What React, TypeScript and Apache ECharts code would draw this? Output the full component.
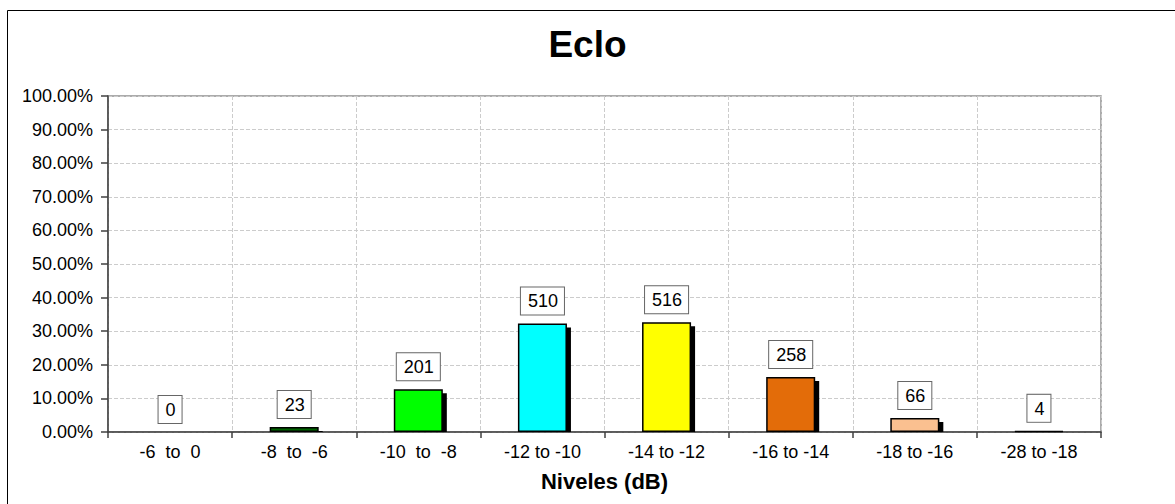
import React, { useEffect, useRef } from "react";
import * as echarts from "echarts";

const categories = ["-6  to  0", "-8  to  -6", "-10  to  -8", "-12 to -10", "-14 to -12", "-16 to -14", "-18 to -16", "-28 to -18"];
const counts = [0, 23, 201, 510, 516, 258, 66, 4];
const percents = [0.0, 1.46, 12.74, 32.32, 32.7, 16.35, 4.18, 0.25];
const barColors = ["#0000ff", "#006400", "#00ff00", "#00ffff", "#ffff00", "#e36c09", "#fac090", "#404040"];
const yTicks = [0, 10, 20, 30, 40, 50, 60, 70, 80, 90, 100];

const BAR_FRAC = 0.395;

export default function App() {
  const ref = useRef<HTMLDivElement>(null);
  useEffect(() => {
    if (!ref.current) return;
    const chart = echarts.init(ref.current, null, { renderer: "svg" });
    const font = "Arial, 'Liberation Sans', sans-serif";
    chart.setOption({
      animation: false,
      backgroundColor: "#ffffff",
      title: {
        text: "Eclo",
        left: "center",
        top: 21,
        textStyle: { fontFamily: font, fontSize: 37, fontWeight: "bold", color: "#000" },
      },
      graphic: [
        {
          type: "rect",
          shape: { x: 7.5, y: 10.5, width: 1300, height: 700 },
          style: { fill: "none", stroke: "#000", lineWidth: 1 },
          silent: true,
          z: -10,
        },
      ],
      grid: {
        left: 108,
        right: 74,
        top: 96,
        bottom: 72,
        show: true,
        borderColor: "#909090",
        borderWidth: 1.5,
        backgroundColor: "transparent",
      },
      xAxis: {
        type: "category",
        data: categories,
        boundaryGap: true,
        name: "Niveles (dB)",
        nameLocation: "middle",
        nameGap: 38,
        nameTextStyle: { fontFamily: font, fontSize: 22, fontWeight: "bold", color: "#000" },
        axisLine: { show: true, lineStyle: { color: "#404040", width: 1.5 } },
        axisTick: { show: true, length: 6, alignWithLabel: false, lineStyle: { color: "#404040", width: 1.5 } },
        axisLabel: { fontFamily: font, fontSize: 18, color: "#000", margin: 11, interval: 0 },
        splitLine: { show: true, interval: 0, lineStyle: { color: "#cccccc", type: "dashed", width: 1 } },
      },
      yAxis: {
        type: "value",
        min: yTicks[0],
        max: yTicks[yTicks.length - 1],
        interval: 10,
        axisLine: { show: true, lineStyle: { color: "#404040", width: 1.5 } },
        axisTick: { show: true, length: 7, lineStyle: { color: "#404040", width: 1.5 } },
        axisLabel: {
          fontFamily: font,
          fontSize: 18,
          color: "#000",
          margin: 15,
          formatter: (v: number) => v.toFixed(2) + "%",
        },
        splitLine: { show: true, lineStyle: { color: "#cccccc", type: "dashed", width: 1 } },
      },
      series: [
        {
          type: "custom",
          z: 1,
          data: percents.map((p, i) => [i, p]),
          renderItem: (params: any, api: any) => {
            const idx = api.value(0);
            const v = api.value(1);
            if (!v) return null;
            const top = api.coord([idx, v]);
            const base = api.coord([idx, 0]);
            const w = api.size([1, 0])[0] * BAR_FRAC;
            const h = base[1] - top[1] - 4;
            if (h <= 0) return null;
            return {
              type: "rect",
              shape: { x: top[0] - w / 2 + 4, y: top[1] + 4, width: w, height: h },
              style: { fill: "#000" },
            };
          },
        },
        {
          type: "bar",
          z: 2,
          barWidth: BAR_FRAC * 100 + "%",
          data: percents.map((p, i) => ({
            value: p,
            itemStyle: { color: barColors[i], borderColor: "#000", borderWidth: p > 0 ? 1.5 : 0 },
          })),
          label: {
            show: true,
            position: "top",
            distance: 9,
            formatter: (p: any) => String(counts[p.dataIndex]),
            fontFamily: font,
            fontSize: 18,
            color: "#000",
            backgroundColor: "#fff",
            borderColor: "#666",
            borderWidth: 1,
            padding: [5, 6, 4, 7],
          },
        },
      ],
    });
    return () => chart.dispose();
  }, []);
  return (
    <div
      ref={ref}
      style={{ position: "fixed", left: 0, top: 0, width: 1175, height: 504, background: "#fff" }}
    />
  );
}
